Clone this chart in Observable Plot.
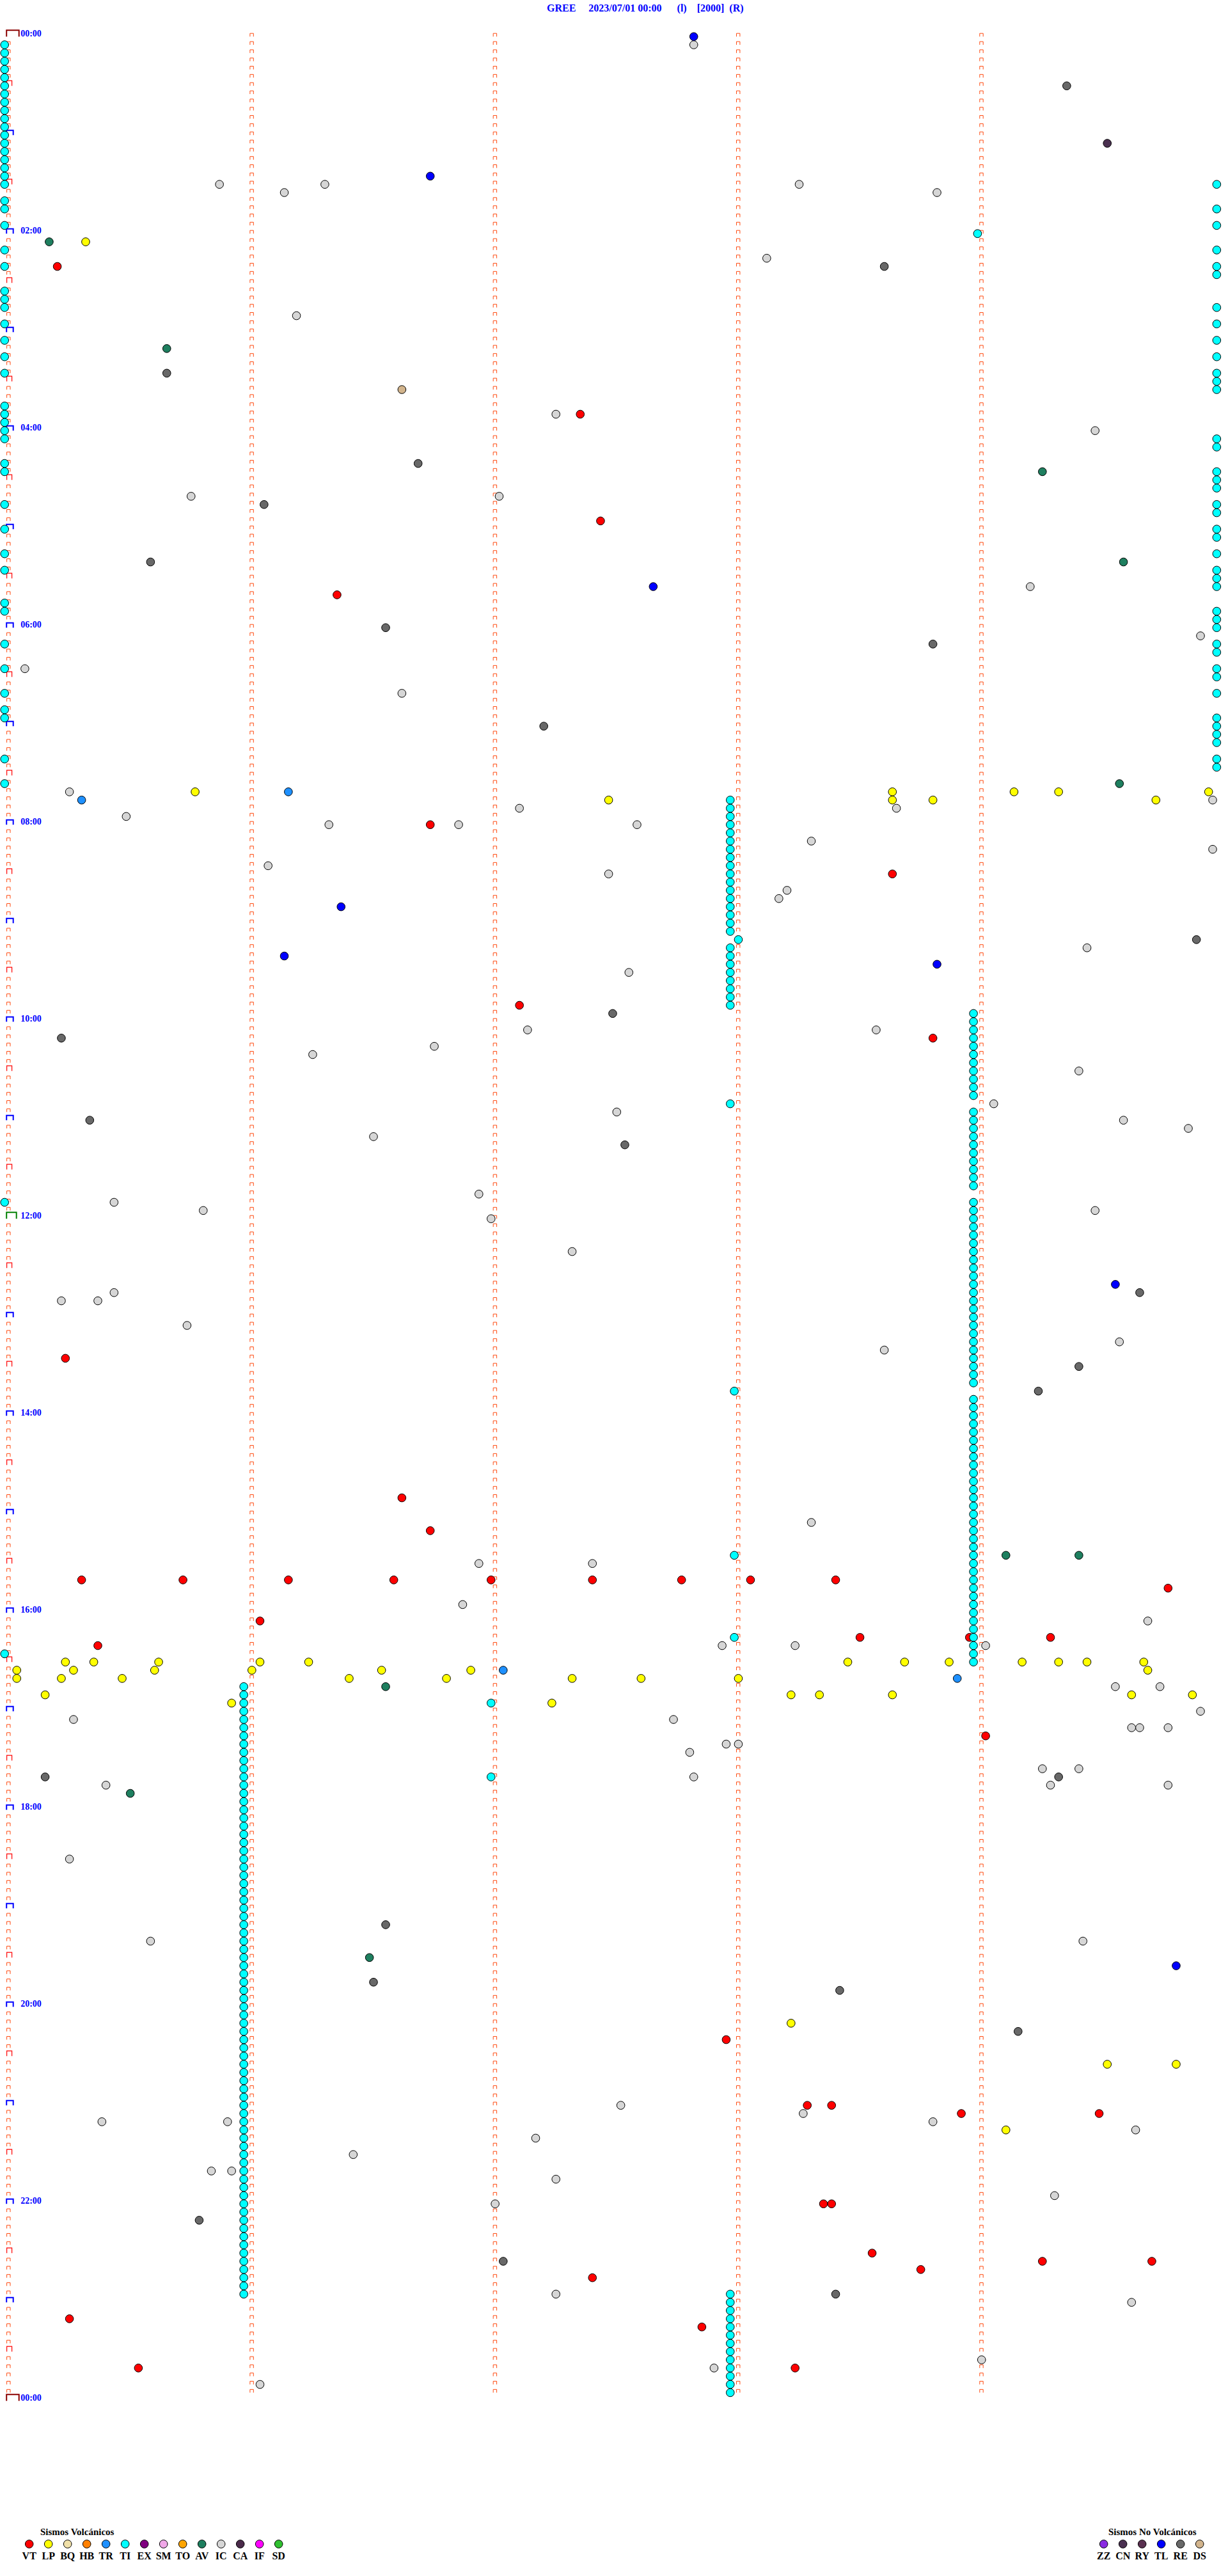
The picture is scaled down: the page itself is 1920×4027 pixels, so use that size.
<!DOCTYPE html>
<html><head><meta charset="utf-8">
<script src="https://cdn.jsdelivr.net/npm/d3@7"></script>
<script src="https://cdn.jsdelivr.net/npm/@observablehq/plot@0.6"></script>
<style>
html,body{margin:0;padding:0;background:#fff}
body{width:1920px;height:4027px;position:relative;overflow:hidden;font-family:"Liberation Serif","Times New Roman",serif}
#title{position:absolute;top:4px;left:855px;color:#0000ff;font-weight:bold;font-size:16px;white-space:pre;line-height:18px}
#chart{position:absolute;top:0;left:0}
#legend{position:absolute;top:3940px;left:0}
</style></head>
<body>
<div id="title"></div>
<div id="chart"></div>
<div id="legend"></div>
<script>
// ---------------- DATA ----------------
const stationTitle = "GREE     2023/07/01 00:00      (l)    [2000]  (R)";
// labels every 2 hours, from 00:00 of the day to 00:00 of the next day
const timeLabels = ["00:00","02:00","04:00","06:00","08:00","10:00","12:00","14:00","16:00","18:00","20:00","22:00","00:00"];
const volcanicCodes = ["VT","LP","BQ","HB","TR","TI","EX","SM","TO","AV","IC","CA","IF","SD"];
const nonVolcanicCodes = ["ZZ","CN","RY","TL","RE","DS"];

const VT = ["02:20:13","03:52:22","04:57:27","05:41:22","08:01:45","08:33:39","09:52:07","10:13:49","13:25:15","14:51:38","15:11:45",
"15:40:19","15:40:44","15:41:10","15:41:36","15:42:00","15:42:25","15:42:47","15:43:04","15:43:25","15:49:47","16:06:03",
"16:18:31","16:18:58","16:19:18","16:20:23","17:19:02","20:22:58","21:03:18","21:03:24","21:08:56","21:09:30","22:03:22","22:03:24",
"22:33:34","22:39:16","22:39:43","22:43:46","22:47:25","23:10:16","23:17:52","23:40:33","23:43:15"];
const LP = ["02:05:20","07:40:47","07:43:39","07:44:09","07:44:20","07:44:57","07:47:29","07:48:39","07:48:49","07:49:44",
"16:30:15","16:30:22","16:30:38","16:31:03","16:31:15","16:33:28","16:33:42","16:33:53","16:34:11","16:34:20","16:34:27","16:34:41",
"16:35:03","16:35:17","16:35:37","16:36:01","16:36:33","16:36:55","16:39:42",
"16:40:03","16:40:14","16:40:29","16:41:25","16:41:49","16:42:20","16:42:37","16:43:01",
"16:50:10","16:53:14","16:53:21","16:53:39","16:54:38","16:54:53","16:55:56","16:57:15",
"20:13:14","20:39:32","20:39:49","21:19:07"];
const TR = ["07:41:10","07:45:19","16:37:03","16:43:55"];
const TI = [
// start-of-row tremor
"00:05:00","00:10:00","00:15:00","00:20:00","00:25:00","00:30:00","00:35:00","00:40:00","00:45:00","00:50:00","00:55:00","01:00:00",
"01:05:00","01:10:00","01:15:00","01:20:00","01:25:00","01:30:00","01:40:00","01:45:00","01:55:00","02:10:00","02:20:00","02:35:00",
"02:40:00","02:45:00","02:55:00","03:05:00","03:15:00","03:25:00","03:45:00","03:50:00","03:55:00","04:00:00","04:05:00","04:20:00",
"04:25:00","04:45:00","05:00:00","05:15:00","05:25:00","05:45:00","05:50:00","06:10:00","06:25:00","06:40:00","06:50:00","06:55:00",
"07:20:00","07:35:00","11:50:00","16:25:00",
// end-of-row tremor
"01:34:59","01:49:59","01:59:59","02:14:59","02:24:59","02:29:59","02:49:59","02:59:59","03:09:59","03:19:59","03:29:59","03:34:59",
"03:39:59","04:09:59","04:14:59","04:29:59","04:34:59","04:39:59","04:49:59","04:54:59","05:04:59","05:09:59","05:19:59","05:29:59",
"05:34:59","05:39:59","05:54:59","05:59:59","06:04:59","06:14:59","06:19:59","06:29:59","06:34:59","06:44:59","06:59:59","07:04:59",
"07:09:59","07:14:59","07:24:59","07:29:59",
// isolated
"02:04:00","10:52:59","13:48:00","15:28:00","16:18:00","16:57:00","17:42:00",
// episode 07:47 - 09:52
"07:47:59","07:52:59","07:57:59","08:02:59","08:07:59","08:12:59","08:17:59","08:22:59","08:27:59","08:32:59","08:37:59","08:42:59",
"08:47:59","08:52:59","08:57:59","09:02:59","09:07:59","09:13:01","09:17:59","09:22:59","09:27:59","09:32:59","09:37:59","09:42:59",
"09:47:59","09:52:59",
// episode 09:58 - 16:33
"09:58:59","10:03:59","10:08:59","10:13:59","10:18:59","10:23:59","10:28:59","10:33:59","10:38:59","10:43:59","10:48:59","10:58:59",
"11:03:59","11:08:59","11:13:59","11:18:59","11:23:59","11:28:59","11:33:59","11:38:59","11:43:59","11:53:59","11:58:59","12:03:59",
"12:08:59","12:13:59","12:18:59","12:23:59","12:28:59","12:33:59","12:38:59","12:43:59","12:48:59","12:53:59","12:58:59","13:03:59",
"13:08:59","13:13:59","13:18:59","13:23:59","13:28:59","13:33:59","13:38:59","13:43:59","13:53:59","13:58:59","14:03:59","14:08:59",
"14:13:59","14:18:59","14:23:59","14:28:59","14:33:59","14:38:59","14:43:59","14:48:59","14:53:59","14:58:59","15:03:59","15:08:59",
"15:13:59","15:18:59","15:23:59","15:28:59","15:33:59","15:38:59","15:43:59","15:48:59","15:53:59","15:58:59","16:03:59","16:08:59",
"16:13:59","16:18:59","16:23:59","16:28:59","16:33:59",
// episode 16:45 - 22:55
"16:45:59","16:50:59","16:55:59","17:00:59","17:05:59","17:10:59","17:15:59","17:20:59","17:25:59","17:30:59","17:35:59","17:40:59",
"17:45:59","17:50:59","17:55:59","18:00:59","18:05:59","18:10:59","18:15:59","18:20:59","18:25:59","18:30:59","18:35:59","18:40:59",
"18:45:59","18:50:59","18:55:59","19:00:59","19:05:59","19:10:59","19:15:59","19:20:59","19:25:59","19:30:59","19:35:59","19:40:59",
"19:45:59","19:50:59","19:55:59","20:00:59","20:05:59","20:10:59","20:15:59","20:20:59","20:25:59","20:30:59","20:35:59","20:40:59",
"20:45:59","20:50:59","20:55:59","21:00:59","21:05:59","21:10:59","21:15:59","21:20:59","21:25:59","21:30:59","21:35:59","21:40:59",
"21:45:59","21:50:59","21:55:59","22:00:59","22:05:59","22:10:59","22:15:59","22:20:59","22:25:59","22:30:59","22:35:59","22:40:59",
"22:45:59","22:50:59","22:55:59",
// episode 22:57 - 23:57
"22:57:59","23:02:59","23:07:59","23:12:59","23:17:59","23:22:59","23:27:59","23:32:59","23:37:59","23:42:59","23:47:59","23:52:59","23:57:59"];
const AV = ["02:05:11","03:10:40","04:29:16","05:24:36","07:39:35","15:29:07","15:29:25","16:46:34","17:50:31","19:31:30"];
const IC = ["00:07:50","01:30:53","01:31:19","01:33:16","01:36:09","01:38:50","02:18:08","02:51:12","03:52:16","04:04:29","04:40:46",
"04:42:02","05:39:13","06:09:55","06:25:05","06:41:38","07:40:16","07:49:58","07:52:07","07:53:40","07:55:30","08:01:20","08:01:52",
"08:02:36","08:13:19","08:19:58","08:26:05","08:32:29","08:43:13","08:48:11","09:19:27","09:32:34","10:07:09","10:08:35","10:16:46",
"10:21:16","10:34:25","10:54:04","10:57:31","11:04:36","11:09:52","11:11:31","11:46:57","11:50:27","11:55:49","11:59:29","12:02:00",
"12:22:20","12:45:27","12:50:14","12:50:23","13:05:45","13:19:35","13:23:37","15:08:19","15:31:57","15:32:25","15:56:53","16:09:42",
"16:22:57","16:23:15","16:24:02","16:49:34","16:49:45","17:04:55","17:05:17","17:07:45","17:14:38","17:14:40","17:14:47","17:22:58",
"17:23:01","17:27:49","17:39:16","17:39:25","17:42:50","17:45:25","17:49:18","17:49:47","18:30:16","19:20:36","19:24:26","21:02:32",
"21:08:17","21:10:24","21:10:55","21:13:49","21:19:39","21:22:11","21:31:26","21:40:51","21:40:56","21:47:16","21:59:19","22:02:01",
"22:57:16","23:04:38","23:39:01","23:42:55","23:51:03"];
const CN = ["01:09:32"];
const TL = ["00:02:50","01:26:45","05:37:40","08:51:23","09:21:09","09:28:50","12:44:34","19:39:49"];
const RE = ["00:34:22","02:23:37","03:25:40","04:21:42","04:46:04","05:20:36","06:01:34","06:13:49","07:02:13","09:14:54","09:57:30",
"10:10:14","11:00:21","11:17:33","12:49:40","13:34:25","13:49:15","17:40:10","17:44:20","19:11:34","19:46:31","19:53:26","20:19:10",
"22:10:48","22:37:03","22:58:25"];
const DS = ["03:36:38"];

// ---------------- STYLE ----------------
const typeColors = {VT:"#ff0000",LP:"#ffff00",BQ:"#f0e0a8",HB:"#ff8000",TR:"#1e90ff",TI:"#00ffff",EX:"#800080",SM:"#f0a8e8",
  TO:"#ffa500",AV:"#1e7f5f",IC:"#d6d6d6",CA:"#4a2a4a",IF:"#ff00ff",SD:"#30c030",
  ZZ:"#8a2be2",CN:"#4a3050",RY:"#5a3050",TL:"#0000ff",RE:"#686868",DS:"#d2b48c"};
const allCodes = [...volcanicCodes, ...nonVolcanicCodes];

// ---------------- BUILD ----------------
document.getElementById("title").textContent = stationTitle;
const ROW = 300; // seconds per row
const toSec = s => { const [h,m,sec] = s.split(":").map(Number); return h*3600 + m*60 + (sec||0); };
const lists = {IC, RE, CN, DS, TL, AV, TR, LP, VT, TI};
const events = [];
for (const [code, list] of Object.entries(lists)) {
  for (const t of list) {
    const S = toSec(t), row = Math.floor(S / ROW);
    events.push({code, rowStart: row * ROW / 60, offset: S - row * ROW});
  }
}
const nRows = 24 * 3600 / ROW;
const rowIdx = d3.range(0, nRows + 1);
const col0 = rowIdx.map(r => {
  const min = r * 5;
  const kind = (min % 1440 === 0) ? "day" : (min === 720 ? "noon" : (min % 60 === 0 ? "hour" : (min % 30 === 0 ? "half" : "small")));
  return {rowStart: min, offset: 0, kind};
});
const gridMarks = [];
for (const r of d3.range(0, nRows)) for (const c of [1,2,3,4]) gridMarks.push({rowStart: r*5, offset: c*60});
const labels = timeLabels.map((s, i) => ({rowStart: i * 120, offset: 0, text: s}));

const cap = (x0, w, h) => ({draw(ctx) { ctx.moveTo(x0, 0); ctx.lineTo(x0, -h); ctx.lineTo(x0 + w, -h); ctx.lineTo(x0 + w, 0); }});

const Y0 = 56.7, Y1 = 3752.7, X0 = 12.7, X1 = 1914.2, H = 3775;
const chart = Plot.plot({
  width: 1920, height: H,
  marginLeft: 0, marginRight: 0, marginTop: 0, marginBottom: 0,
  x: {domain: [0, ROW], range: [X0, X1], axis: null},
  y: {domain: [0, 1440], range: [Y0, Y1], axis: null},
  color: {domain: allCodes, range: allCodes.map(c => typeColors[c])},
  style: {background: "transparent", overflow: "visible"},
  marks: [
    Plot.dot(gridMarks, {x: "offset", y: "rowStart", symbol: cap(-2.6, 5.4, 5), r: 3, fill: "none", stroke: "#ff4a10", strokeWidth: 1}),
    Plot.dot(col0.filter(d => d.kind === "small"), {x: "offset", y: "rowStart", symbol: cap(-2.6, 5.4, 5), r: 3, fill: "none", stroke: "#ff4a10", strokeWidth: 1}),
    Plot.dot(col0.filter(d => d.kind === "half"), {x: "offset", y: "rowStart", symbol: cap(-2.6, 8, 8), r: 3, fill: "none", stroke: "#ff0000", strokeWidth: 1.2}),
    Plot.dot(col0.filter(d => d.kind === "hour"), {x: "offset", y: "rowStart", symbol: cap(-3, 10.5, 7.5), r: 3, fill: "none", stroke: "#0000ff", strokeWidth: 2}),
    Plot.dot(col0.filter(d => d.kind === "day"), {x: "offset", y: "rowStart", symbol: cap(-3, 19.5, 10), r: 3, fill: "none", stroke: "#8b0000", strokeWidth: 2}),
    Plot.dot(col0.filter(d => d.kind === "noon"), {x: "offset", y: "rowStart", symbol: cap(-3, 15.5, 10), r: 3, fill: "none", stroke: "#008000", strokeWidth: 2}),
    Plot.text(labels, {x: "offset", y: "rowStart", text: "text", dx: 19, textAnchor: "start", lineAnchor: "bottom",
      fill: "#0000ff", fontWeight: "bold", fontSize: 14, fontFamily: "Liberation Serif"}),
    Plot.dot(events, {x: "offset", y: "rowStart", fill: "code", r: 6.3, dx: -6, stroke: "#000", strokeWidth: 1})
  ]
});
document.getElementById("chart").appendChild(chart);

// ---------------- LEGEND ----------------
const lg = d3.select("#legend").append("svg").attr("width", 1920).attr("height", 80)
  .attr("font-family", "Liberation Serif").attr("font-weight", "bold");
function group(codes, titleX, firstX, title) {
  lg.append("text").attr("x", titleX).attr("y", 23).attr("font-size", 15).attr("fill", "#000").text(title);
  codes.forEach((c, i) => {
    const cx = firstX + 30 * i;
    lg.append("circle").attr("cx", cx).attr("cy", 37).attr("r", 6.3).attr("fill", typeColors[c]).attr("stroke", "#000");
    lg.append("text").attr("x", cx).attr("y", 61).attr("text-anchor", "middle").attr("font-size", 16).attr("fill", "#000").text(c);
  });
}
group(volcanicCodes, 63, 45.7, "Sismos Volcánicos");
group(nonVolcanicCodes, 1733, 1725.7, "Sismos No Volcánicos");
</script>
</body></html>
